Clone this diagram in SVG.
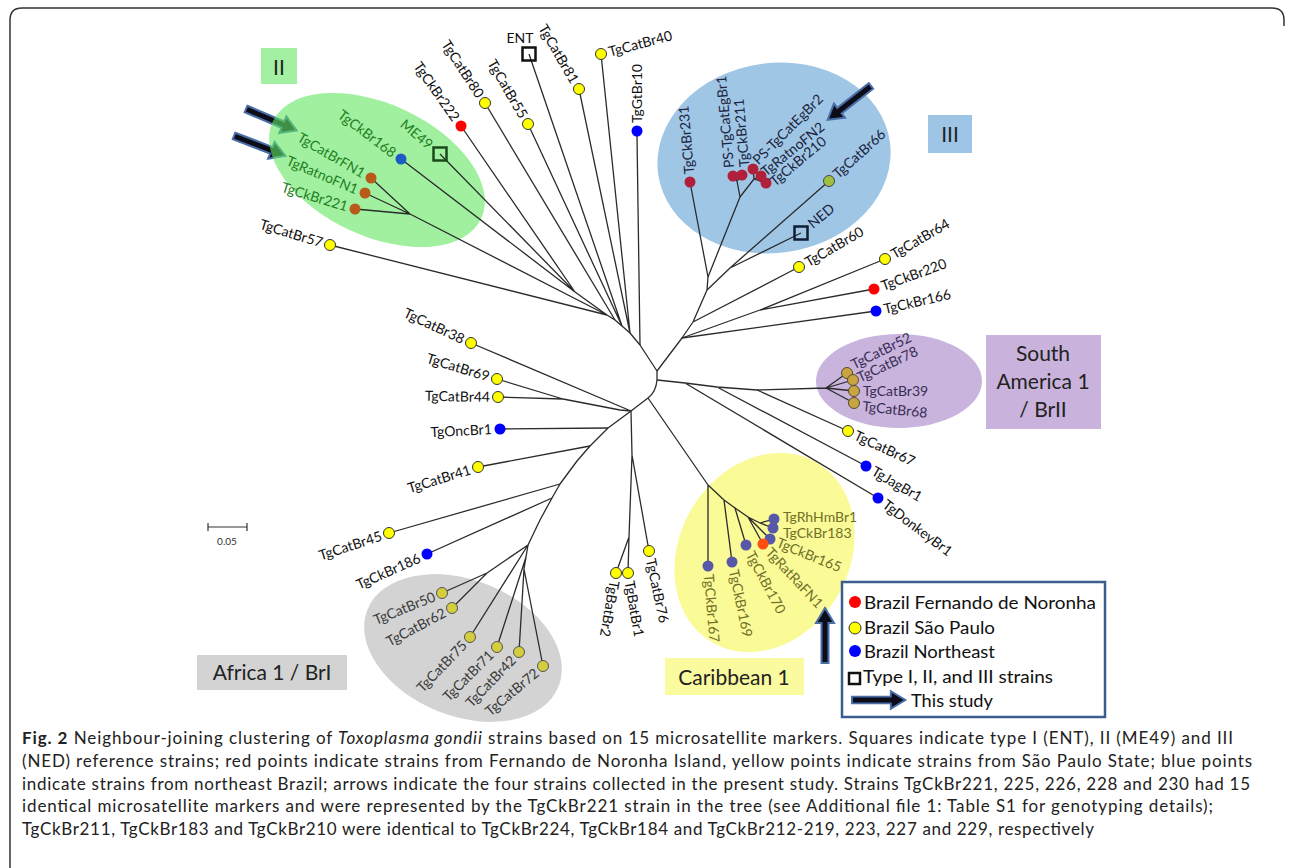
<svg xmlns="http://www.w3.org/2000/svg" width="1292" height="868" viewBox="0 0 1292 868">
<style>
.br{stroke:#2b2b2b;stroke-width:1.3;fill:none;stroke-linejoin:round}
.lb{font-family:Lato,"Open Sans","Liberation Sans",sans-serif;font-size:14px;fill:#111}
.big{font-family:Lato,"Open Sans","Liberation Sans",sans-serif;font-size:21px;fill:#222}
.lg{font-family:Lato,"Open Sans","Liberation Sans",sans-serif;font-size:18px;fill:#111}
.cap{font-family:Lato,"Open Sans","Liberation Sans",sans-serif;font-size:17px;fill:#222}
.y{fill:#ffff00;stroke:#333;stroke-width:1}
.r{fill:#ff0000}
.b{fill:#0000ff}
.bn{fill:#b85a1a}
.cr{fill:#b0203a}
.sa{fill:#c7a540;stroke:#5a4a30;stroke-width:1}
.cb{fill:#5858a8}
.af{fill:#d4cd3e;stroke:#555;stroke-width:1}
.sq{fill:none;stroke-width:2.5}
.g2{fill:#1f7f1f}
.g3{fill:#1b2440}
.gs{fill:#3a2d55}
.gc{fill:#707028}
.ga{fill:#3a3a3a}
.arw{fill:#0d0d1a;stroke:#4a6ea8;stroke-width:2;stroke-linejoin:miter}
</style>
<defs>
<polygon id="arr" points="0,-3.5 40,-3.5 40,-9 55,0 40,9 40,3.5 0,3.5"/>
</defs>
<rect width="1292" height="868" fill="#fff"/>
<path d="M10,868 V20 Q10,8 22,8 H1272 Q1284,8 1284,20 V26" fill="none" stroke="#333" stroke-width="1.5"/>

<g id="cluster-boxes">
<rect x="261" y="48" width="36" height="36" fill="#a3f0a3"/>
<text x="279" y="75" text-anchor="middle" class="big" font-size="22">II</text>
<rect x="928" y="115" width="44" height="38" fill="#9ec5e6"/>
<text x="950" y="142" text-anchor="middle" class="big" font-size="22">III</text>
<rect x="986" y="335" width="115" height="94" fill="#c9b2db"/>
<text x="1043" y="361" text-anchor="middle" class="big">South</text>
<text x="1043" y="389" text-anchor="middle" class="big">America 1</text>
<text x="1043" y="417" text-anchor="middle" class="big">/ BrII</text>
<rect x="665" y="658" width="139" height="37" fill="#fafa9e"/>
<text x="734" y="685" text-anchor="middle" class="big">Caribbean 1</text>
<rect x="197" y="655" width="150" height="35" fill="#d3d3d3"/>
<text x="272" y="680" text-anchor="middle" class="big">Africa 1 / BrI</text>
</g>

<g id="arrows-II">
<use href="#arr" class="arw" transform="translate(246,109) rotate(23)"/>
<use href="#arr" class="arw" transform="translate(234,136) rotate(21)"/>
</g>

<g id="ellipses">
<ellipse cx="377" cy="170" rx="115" ry="66" transform="rotate(25 377 170)" fill="#61e661" fill-opacity="0.6"/>
<ellipse cx="774" cy="158" rx="117" ry="95" transform="rotate(-8 774 158)" fill="#a0c6e6"/>
<ellipse cx="899" cy="381" rx="83" ry="47" fill="#c8b4dc"/>
<ellipse cx="764.5" cy="552.5" rx="85" ry="104" transform="rotate(30 764.5 552.5)" fill="#fafa96"/>
<ellipse cx="463" cy="648" rx="103" ry="68" transform="rotate(22 463 648)" fill="#d3d3d3"/>
</g>

<g id="arrows">
<use href="#arr" class="arw" transform="translate(871,86) rotate(142)"/>
<use href="#arr" class="arw" transform="translate(825,663) rotate(-90)"/>
</g>

<g id="connectors" class="br">
<path d="M657,371 L657,380 Q656,392 648,398 L631,411"/>
<path d="M657,371 L640,345 L630,333 L622,326 L615,320 L607,315 L575,292"/>
<path d="M640,345 L637,136"/>
<path d="M630,333 L601,54 M630,333 L579,89"/>
<path d="M622,326 L529,54 M622,326 L528,124"/>
<path d="M615,320 L485,103"/>
<path d="M607,315 L330,245 M607,315 L410,214"/>
<path d="M575,292 L401,159 M575,292 L440,154 M575,292 L461,126"/>
<path d="M410,214 L371,178 M410,214 L365,193 M410,214 L355,209"/>
<path d="M657,371 L682,338 L876,311"/>
<path d="M682,338 L760,310 L885,259 M760,310 L874,289"/>
<path d="M682,338 L693,322 L799,267 M693,322 L707,290 L708,277 L690,182"/>
<path d="M708,277 L740,197 L737,181 L733,176 M737,181 L742,175"/>
<path d="M740,197 L754,179 L753,169 M754,179 L761,176 M754,179 L766,183"/>
<path d="M707,290 L730,268 L829,181 M730,268 L801,233"/>
<path d="M657,380 L685,383 L878,498 M685,383 L717,387 L866,466 M717,387 L757,390 L848,431"/>
<path d="M757,390 L826,388 L847,373 M826,388 L853,380 M826,388 L854,391 M826,388 L854,403"/>
<path d="M648,398 L708,485 L708,566 M708,485 L724,500 L732,562 M724,500 L735,508 L746,545"/>
<path d="M735,508 L748,517 L763,544 M748,517 L770,539 M748,517 L760,523 L774,519 M760,523 L773,528"/>
<path d="M631,411 L632,455 L629,537 L616,573 M629,537 L628,573 M632,455 L649,551"/>
<path d="M631,411 L471,343 M631,411 L620,410 L563,399 L497,379 M563,399 L498,397"/>
<path d="M631,411 L608,428 L590,446 L577,461 L560,484 L552,498 L540,520 L528,545"/>
<path d="M608,428 L500,429 M590,446 L478,467 M560,484 L389,533 M552,498 L427,554"/>
<path d="M528,545 L487,573 L442,593 M487,573 L452,608 M528,545 L470,637"/>
<path d="M528,545 L526,557 L497,647 M526,557 L524,569 L519,652 M524,569 L543,666"/>
</g>

<g id="n-TgCatBr57"><circle cx="330" cy="245" r="5.5" class="y"/><text class="lb" text-anchor="end" transform="translate(321,247.5) rotate(17)">TgCatBr57</text></g>
<g id="n-TgCkBr221"><circle cx="355" cy="209" r="5.5" class="bn"/><text class="lb g2" text-anchor="end" transform="translate(346,211.5) rotate(17)">TgCkBr221</text></g>
<g id="n-TgRatnoFN1"><circle cx="365" cy="193" r="5.5" class="bn"/><text class="lb g2" text-anchor="end" transform="translate(355.6,194.5) rotate(23)">TgRatnoFN1</text></g>
<g id="n-TgCatBrFN1"><circle cx="371" cy="178" r="5.5" class="bn"/><text class="lb g2" text-anchor="end" transform="translate(361.6,178.3) rotate(30)">TgCatBrFN1</text></g>
<g id="n-TgCkBr168"><circle cx="401" cy="159" r="5.5" fill="#1c5cc4"/><text class="lb g2" text-anchor="end" transform="translate(391.6,158.2) rotate(37)">TgCkBr168</text></g>
<g id="n-ME49"><rect x="433.5" y="147.5" width="13" height="13" class="sq" stroke="#1a4a1a"/><text class="lb g2" text-anchor="end" transform="translate(427.8,150) rotate(40)">ME49</text></g>
<g id="n-TgCkBr222"><circle cx="461" cy="126" r="5.5" class="r"/><text class="lb" text-anchor="end" transform="translate(452.3,122.3) rotate(55)">TgCkBr222</text></g>
<g id="n-TgCatBr80"><circle cx="485" cy="103" r="5.5" class="y"/><text class="lb" text-anchor="end" transform="translate(476.4,99) rotate(57)">TgCatBr80</text></g>
<g id="n-TgCatBr55"><circle cx="528" cy="124" r="5.5" class="y"/><text class="lb" text-anchor="end" transform="translate(519.7,119.6) rotate(60)">TgCatBr55</text></g>
<g id="n-ENT"><rect x="522.5" y="47.5" width="13" height="13" class="sq" fill="#fff" stroke="#111"/><text class="lb" text-anchor="middle" x="520" y="43">ENT</text></g>
<g id="n-TgCatBr81"><circle cx="579" cy="89" r="5.5" class="y"/><text class="lb" text-anchor="end" transform="translate(570.7,84.6) rotate(60)">TgCatBr81</text></g>
<g id="n-TgCatBr40"><circle cx="601" cy="54" r="5.5" class="y"/><text class="lb" transform="translate(610,56.7) rotate(-15)">TgCatBr40</text></g>
<g id="n-TgGtBr10"><circle cx="637" cy="131" r="5.5" class="b"/><text class="lb" transform="translate(642,123) rotate(-90)">TgGtBr10</text></g>

<g id="n-TgCkBr231"><circle cx="690" cy="182" r="5.5" class="cr"/><text class="lb g3" transform="translate(694.3,173.6) rotate(-95)">TgCkBr231</text></g>
<g id="n-PS-TgCatEgBr1"><circle cx="733" cy="176" r="5.5" class="cr"/><text class="lb g3" transform="translate(734,167.6) rotate(-95)">PS-TgCatEgBr1</text></g>
<g id="n-TgCkBr211"><circle cx="742" cy="175" r="5.5" class="cr"/><text class="lb g3" transform="translate(749.5,166.6) rotate(-95)">TgCkBr211</text></g>
<g id="n-PS-TgCatEgBr2"><circle cx="753" cy="169" r="5.5" class="cr"/><text class="lb g3" transform="translate(758.5,165.5) rotate(-45)">PS-TgCatEgBr2</text></g>
<g id="n-TgRatnoFN2"><circle cx="761" cy="176" r="5.5" class="cr"/><text class="lb g3" transform="translate(766,177) rotate(-39)">TgRatnoFN2</text></g>
<g id="n-TgCkBr210"><circle cx="766" cy="183" r="5.5" class="cr"/><text class="lb g3" transform="translate(775,187) rotate(-40)">TgCkBr210</text></g>
<g id="n-TgCatBr66"><circle cx="829" cy="181" r="5.5" fill="#a0c040" stroke="#445" stroke-width="1"/><text class="lb g3" transform="translate(838.2,179.3) rotate(-42)">TgCatBr66</text></g>
<g id="n-NED"><rect x="794.5" y="226.5" width="13" height="13" class="sq" stroke="#0f1f33"/><text class="lb g3" transform="translate(813,229) rotate(-40)">NED</text></g>
<g id="n-TgCatBr60"><circle cx="799" cy="267" r="5.5" class="y"/><text class="lb" transform="translate(808.4,267.3) rotate(-30)">TgCatBr60</text></g>
<g id="n-TgCatBr64"><circle cx="885" cy="259" r="5.5" class="y"/><text class="lb" transform="translate(894.4,259.3) rotate(-30)">TgCatBr64</text></g>
<g id="n-TgCkBr220"><circle cx="874" cy="289" r="5.5" class="r"/><text class="lb" transform="translate(883.2,291) rotate(-20)">TgCkBr220</text></g>
<g id="n-TgCkBr166"><circle cx="876" cy="311" r="5.5" class="b"/><text class="lb" transform="translate(884.9,314.1) rotate(-13)">TgCkBr166</text></g>

<g id="n-TgCatBr52"><circle cx="847" cy="373" r="5.5" class="sa"/><text class="lb gs" transform="translate(854,369.5) rotate(-26)">TgCatBr52</text></g>
<g id="n-TgCatBr78"><circle cx="853" cy="380" r="5.5" class="sa"/><text class="lb gs" transform="translate(860,382.5) rotate(-25)">TgCatBr78</text></g>
<g id="n-TgCatBr39"><circle cx="854" cy="391" r="5.5" class="sa"/><text class="lb gs" transform="translate(863,396)">TgCatBr39</text></g>
<g id="n-TgCatBr68"><circle cx="854" cy="403" r="5.5" class="sa"/><text class="lb gs" transform="translate(862,411) rotate(6)">TgCatBr68</text></g>
<g id="n-TgCatBr67"><circle cx="848" cy="431" r="5.5" class="y"/><text class="lb" transform="translate(853.1,438.9) rotate(25)">TgCatBr67</text></g>
<g id="n-TgJagBr1"><circle cx="866" cy="466" r="5.5" class="b"/><text class="lb" transform="translate(870.4,474.3) rotate(30)">TgJagBr1</text></g>
<g id="n-TgDonkeyBr1"><circle cx="878" cy="498" r="5.5" class="b"/><text class="lb" transform="translate(881.4,506.8) rotate(37)">TgDonkeyBr1</text></g>

<g id="n-TgRhHmBr1"><circle cx="774" cy="519" r="5.5" class="cb"/><text class="lb gc" x="783" y="522" font-size="13.5">TgRhHmBr1</text></g>
<g id="n-TgCkBr183"><circle cx="773" cy="528" r="5.5" class="cb"/><text class="lb gc" x="783" y="538" font-size="13.5">TgCkBr183</text></g>
<g id="n-TgCkBr165"><circle cx="770" cy="539" r="5.5" class="cb"/><text class="lb gc" transform="translate(775.5,546.6) rotate(22)">TgCkBr165</text></g>
<g id="n-TgRatRaFN1"><circle cx="763" cy="544" r="5.5" fill="#ff5010"/><text class="lb gc" transform="translate(764.8,553.2) rotate(47)">TgRatRaFN1</text></g>
<g id="n-TgCkBr170"><circle cx="746" cy="545" r="5.5" class="cb"/><text class="lb gc" transform="translate(745.4,554.4) rotate(62)">TgCkBr170</text></g>
<g id="n-TgCkBr169"><circle cx="732" cy="562" r="5.5" class="cb"/><text class="lb gc" transform="translate(728.8,570.8) rotate(78)">TgCkBr169</text></g>
<g id="n-TgCkBr167"><circle cx="708" cy="566" r="5.5" class="cb"/><text class="lb gc" transform="translate(703.7,574.4) rotate(85)">TgCkBr167</text></g>

<g id="n-TgCatBr76"><circle cx="649" cy="551" r="5.5" class="y"/><text class="lb" transform="translate(645.8,559.8) rotate(78)">TgCatBr76</text></g>
<g id="n-TgBatBr1"><circle cx="628" cy="573" r="5.5" class="y"/><text class="lb" transform="translate(624.5,581.8) rotate(80)">TgBatBr1</text></g>
<g id="n-TgBatBr2"><circle cx="616" cy="573" r="5.5" class="y"/><text class="lb" transform="translate(609.7,580) rotate(100)">TgBatBr2</text></g>

<g id="n-TgCatBr38"><circle cx="471" cy="343" r="5.5" class="y"/><text class="lb" text-anchor="end" transform="translate(461.7,344.1) rotate(25)">TgCatBr38</text></g>
<g id="n-TgCatBr69"><circle cx="497" cy="379" r="5.5" class="y"/><text class="lb" text-anchor="end" transform="translate(487.9,381.5) rotate(17)">TgCatBr69</text></g>
<g id="n-TgCatBr44"><circle cx="498" cy="397" r="5.5" class="y"/><text class="lb" text-anchor="end" transform="translate(490,402) rotate(1)">TgCatBr44</text></g>
<g id="n-TgOncBr1"><circle cx="500" cy="429" r="5.5" class="b"/><text class="lb" text-anchor="end" transform="translate(492,434) rotate(-3)">TgOncBr1</text></g>
<g id="n-TgCatBr41"><circle cx="478" cy="467" r="5.5" class="y"/><text class="lb" text-anchor="end" transform="translate(471.9,474.1) rotate(-17)">TgCatBr41</text></g>
<g id="n-TgCatBr45"><circle cx="389" cy="533" r="5.5" class="y"/><text class="lb" text-anchor="end" transform="translate(382.9,540.3) rotate(-18)">TgCatBr45</text></g>
<g id="n-TgCkBr186"><circle cx="427" cy="554" r="5.5" class="b"/><text class="lb" text-anchor="end" transform="translate(421.7,561.9) rotate(-24)">TgCkBr186</text></g>

<g id="n-TgCatBr50"><circle cx="442" cy="593" r="5.5" class="af"/><text class="lb ga" text-anchor="end" transform="translate(436.5,600.6) rotate(-22)">TgCatBr50</text></g>
<g id="n-TgCatBr62"><circle cx="452" cy="608" r="5.5" class="af"/><text class="lb ga" text-anchor="end" transform="translate(447.2,616.2) rotate(-28)">TgCatBr62</text></g>
<g id="n-TgCatBr75"><circle cx="470" cy="637" r="5.5" class="af"/><text class="lb ga" text-anchor="end" transform="translate(468,646.3) rotate(-46)">TgCatBr75</text></g>
<g id="n-TgCatBr71"><circle cx="497" cy="647" r="5.5" class="af"/><text class="lb ga" text-anchor="end" transform="translate(494.8,656.2) rotate(-45)">TgCatBr71</text></g>
<g id="n-TgCatBr42"><circle cx="519" cy="652" r="5.5" class="af"/><text class="lb ga" text-anchor="end" transform="translate(517,661.3) rotate(-46)">TgCatBr42</text></g>
<g id="n-TgCatBr72"><circle cx="543" cy="666" r="5.5" class="af"/><text class="lb ga" text-anchor="end" transform="translate(540.1,674.9) rotate(-40)">TgCatBr72</text></g>

<g id="scale-bar">
<path d="M208,527 H247 M208,523 V531 M247,523 V531" stroke="#333" stroke-width="1.2" fill="none"/>
<text x="227" y="545" text-anchor="middle" font-family="Lato,'Liberation Sans',sans-serif" font-size="10" fill="#333">0.05</text>
</g>

<g id="legend">
<rect x="842" y="582" width="263" height="135" fill="#fff" stroke="#3a5f8f" stroke-width="2.5"/>
<circle cx="855" cy="602" r="6" class="r"/>
<text class="lg" x="864" y="609" textLength="232" lengthAdjust="spacingAndGlyphs">Brazil Fernando de Noronha</text>
<circle cx="855" cy="628" r="6" class="y"/>
<text class="lg" x="864" y="634" textLength="131" lengthAdjust="spacingAndGlyphs">Brazil São Paulo</text>
<circle cx="855" cy="651" r="6" class="b"/>
<text class="lg" x="864" y="658" textLength="131" lengthAdjust="spacingAndGlyphs">Brazil Northeast</text>
<rect x="849" y="673" width="11" height="11" class="sq" stroke="#111"/>
<text class="lg" x="863" y="683" textLength="190" lengthAdjust="spacingAndGlyphs">Type I, II, and III strains</text>
<use href="#arr" class="arw" transform="translate(852,700) scale(0.97)"/>
<text class="lg" x="911" y="707" textLength="82" lengthAdjust="spacingAndGlyphs">This study</text>
</g>

<g id="caption">
<text class="cap" x="22" y="744" textLength="1211" lengthAdjust="spacing"><tspan font-weight="bold">Fig. 2</tspan> Neighbour-joining clustering of <tspan font-style="italic">Toxoplasma gondii</tspan> strains based on 15 microsatellite markers. Squares indicate type I (ENT), II (ME49) and III</text>
<text class="cap" x="22" y="767" textLength="1230" lengthAdjust="spacing">(NED) reference strains; red points indicate strains from Fernando de Noronha Island, yellow points indicate strains from São Paulo State; blue points</text>
<text class="cap" x="22" y="790" textLength="1228" lengthAdjust="spacing">indicate strains from northeast Brazil; arrows indicate the four strains collected in the present study. Strains TgCkBr221, 225, 226, 228 and 230 had 15</text>
<text class="cap" x="22" y="812" textLength="1191" lengthAdjust="spacing">identical microsatellite markers and were represented by the TgCkBr221 strain in the tree (see Additional file 1: Table S1 for genotyping details);</text>
<text class="cap" x="22" y="835" textLength="1072" lengthAdjust="spacing">TgCkBr211, TgCkBr183 and TgCkBr210 were identical to TgCkBr224, TgCkBr184 and TgCkBr212-219, 223, 227 and 229, respectively</text>
</g>
</svg>
